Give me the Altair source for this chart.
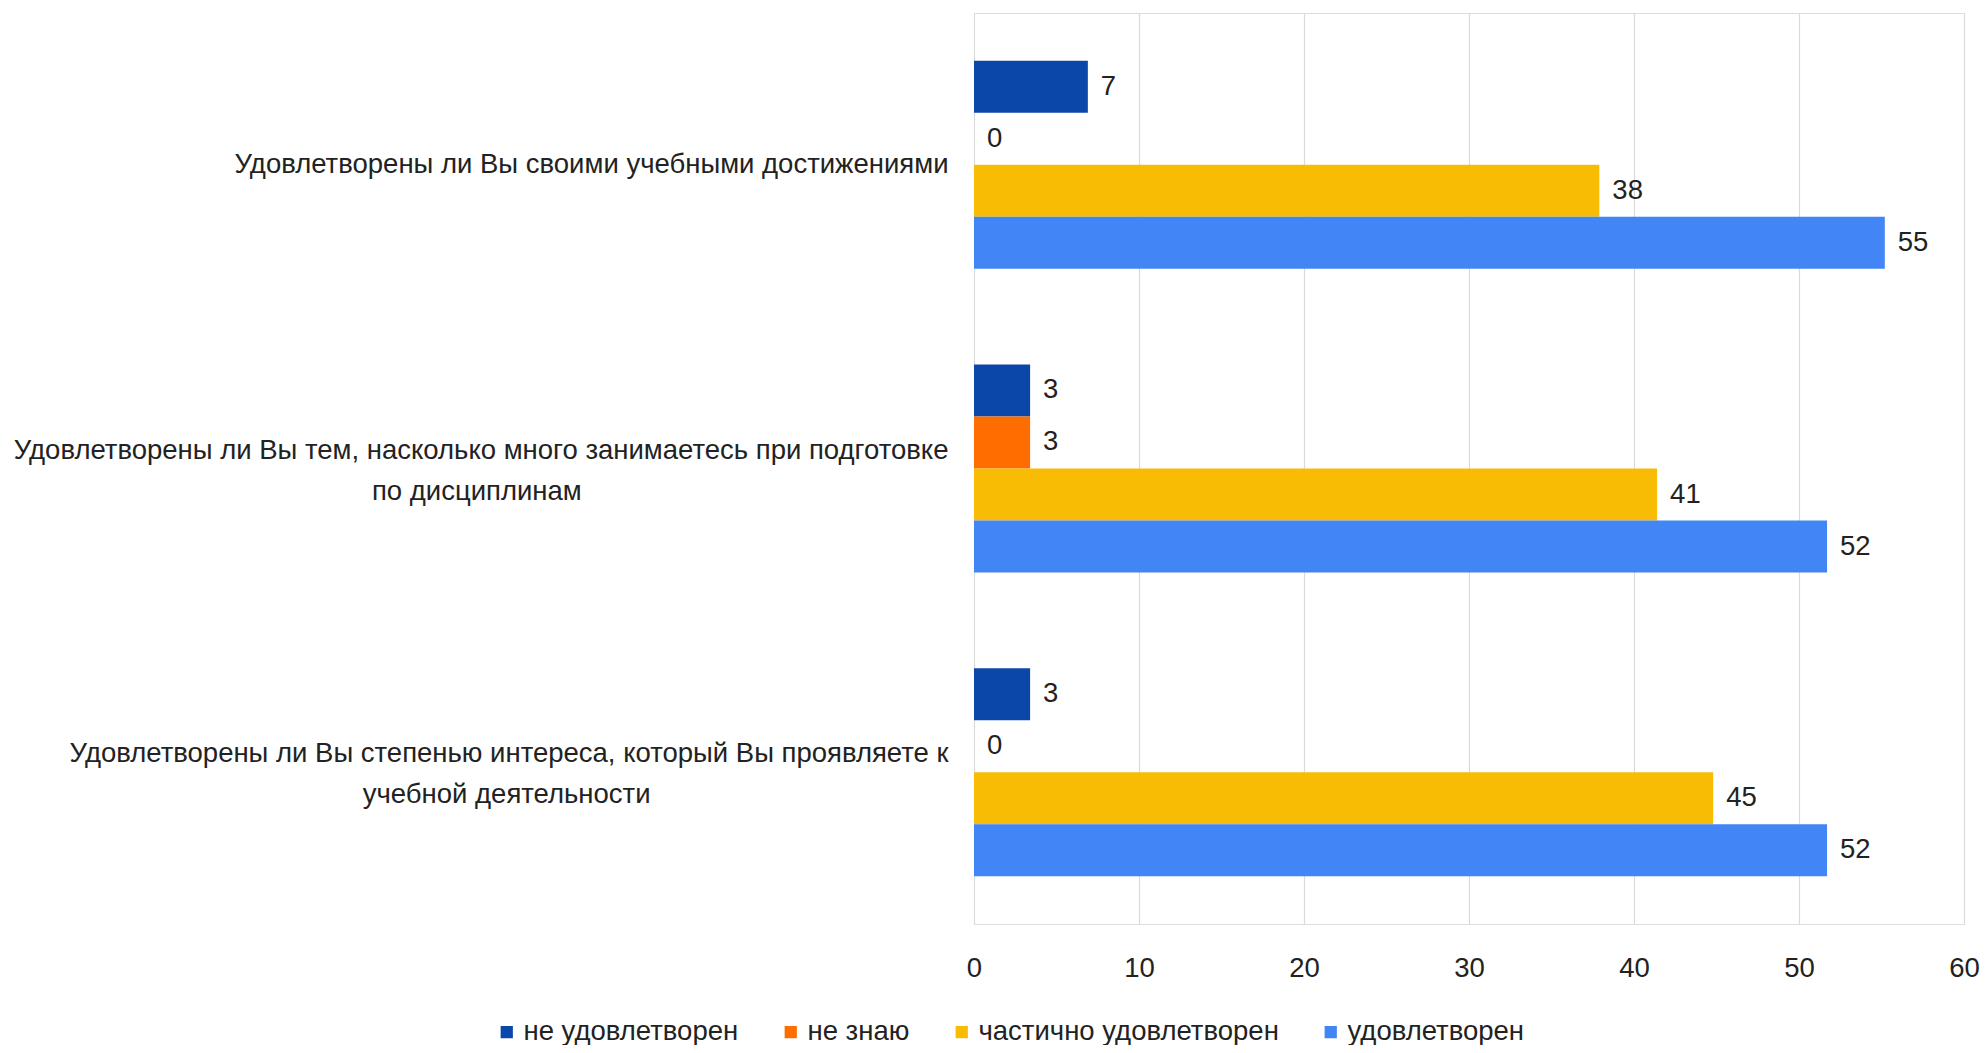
import altair as alt
import pandas as pd

categories = [
    "Удовлетворены ли Вы своими учебными достижениями",
    "Удовлетворены ли Вы тем, насколько много занимаетесь при подготовке|по дисциплинам",
    "Удовлетворены ли Вы степенью интереса, который Вы проявляете к|учебной деятельности",
]
series = ["не удовлетворен", "не знаю", "частично удовлетворен", "удовлетворен"]
colors = ["#0B47A8", "#FF6D01", "#F9BC04", "#4285F4"]

values = {
    "не удовлетворен": [6.9, 3.4, 3.4],
    "не знаю": [0.0, 3.4, 0.0],
    "частично удовлетворен": [37.9, 41.4, 44.8],
    "удовлетворен": [55.2, 51.7, 51.7],
}

# pad second lines with no-break spaces (closed by a zero-width space so they are
# not trimmed) so they sit centred under the first line
NB = "\u00a0"
pads = [0, 48, 39]
labels = []
for c, p in zip(categories, pads):
    parts = c.split("|")
    if len(parts) > 1:
        parts[1] = parts[1] + NB * p + "\u200b"
    labels.append("|".join(parts))

rows = []
for ci, lab in enumerate(labels):
    for si, s in enumerate(series):
        rows.append({"question": lab, "answer": s, "order": si, "value": values[s][ci]})
df = pd.DataFrame(rows)

FONT = "Liberation Sans"
FS = 27.5

y = alt.Y(
    "question:N",
    sort=labels,
    scale=alt.Scale(paddingInner=0.315, paddingOuter=0.1575),
    axis=alt.Axis(
        title=None,
        labelExpr="split(datum.label, '|')",
        labelFont=FONT,
        labelFontSize=FS,
        labelColor="#222222",
        labelLineHeight=41,
        labelPadding=26,
        labelLimit=3000,
        labelOffset={"condition": {"test": "indexof(datum.value, '|') >= 0", "value": -18}, "value": 0},
        ticks=False,
        domain=False,
        grid=False,
        labelAlign="right",
    ),
)
yoff = alt.YOffset("answer:N", sort=series, scale=alt.Scale(paddingInner=0, paddingOuter=0))
x = alt.X(
    "value:Q",
    scale=alt.Scale(domain=[0, 60]),
    axis=alt.Axis(
        title=None,
        values=[0, 10, 20, 30, 40, 50, 60],
        labelFont=FONT,
        labelFontSize=FS,
        labelColor="#222222",
        labelPadding=30,
        ticks=False,
        domain=False,
        grid=True,
        gridColor="#dadada",
        gridWidth=1.2,
        labelFlush=False,
    ),
)

bars = alt.Chart(df).mark_bar(size=52).encode(
    y=y,
    yOffset=yoff,
    x=x,
    color=alt.Color(
        "answer:N",
        sort=series,
        scale=alt.Scale(domain=series, range=colors),
        legend=alt.Legend(
            title=None,
            orient="none",
            direction="horizontal",
            legendX=-481,
            legendY=1005,
            symbolType="square",
            symbolSize=150,
            symbolStrokeWidth=0,
            labelFont=FONT,
            labelFontSize=FS,
            labelColor="#222222",
            labelOffset=3,
            columnPadding=38,
            labelLimit=1000,
        ),
    ),
)

text = alt.Chart(df).mark_text(
    align="left", baseline="middle", dx=13, font=FONT, fontSize=FS, color="#222222"
).encode(
    y=alt.Y("question:N", sort=labels),
    yOffset=yoff,
    x="value:Q",
    text=alt.Text("value:Q", format=".0f"),
)

chart = (
    alt.layer(bars, text)
    .properties(
        width=990,
        height=911,
        autosize=alt.AutoSizeParams(type="none"),
        padding={"left": 966, "top": 5, "right": 16, "bottom": 121},
    )
    .configure_view(stroke=None)
    .configure(background="white")
)

chart.save("out.html", embed_options={"renderer": "svg", "actions": False})
